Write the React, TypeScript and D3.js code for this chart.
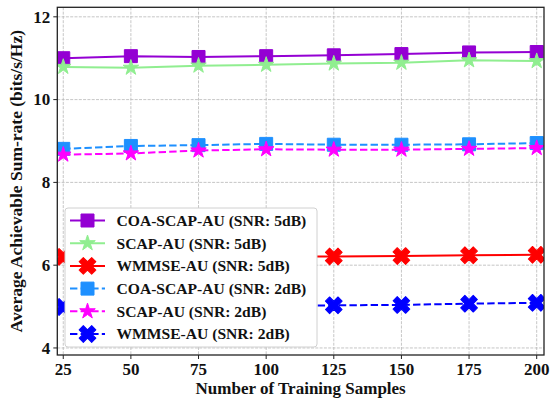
import React from "react";
import * as d3 from "d3";

const samples = [25, 50, 75, 100, 125, 150, 175, 200];
const coa5 = [11.0, 11.05, 11.03, 11.05, 11.07, 11.1, 11.14, 11.15];
const scap5 = [10.79, 10.77, 10.82, 10.84, 10.87, 10.89, 10.95, 10.93];
const wmmse5 = [6.2, 6.2, 6.2, 6.21, 6.21, 6.22, 6.24, 6.25];
const coa2 = [8.81, 8.88, 8.9, 8.93, 8.91, 8.91, 8.92, 8.95];
const scap2 = [8.67, 8.7, 8.77, 8.8, 8.79, 8.79, 8.81, 8.83];
const wmmse2 = [4.99, 5.0, 5.01, 5.02, 5.03, 5.04, 5.07, 5.09];
const xTicks = [25, 50, 75, 100, 125, 150, 175, 200];
const yTicks = [4, 6, 8, 10, 12];

const seriesDefs = [
  { name: "COA-SCAP-AU (SNR: 5dB)", values: coa5, color: "#9400D3", marker: "square", dashed: false },
  { name: "SCAP-AU (SNR: 5dB)", values: scap5, color: "#90EE90", marker: "star", dashed: false },
  { name: "WMMSE-AU (SNR: 5dB)", values: wmmse5, color: "#FF0000", marker: "x", dashed: false },
  { name: "COA-SCAP-AU (SNR: 2dB)", values: coa2, color: "#1E90FF", marker: "square", dashed: true },
  { name: "SCAP-AU (SNR: 2dB)", values: scap2, color: "#FF00FF", marker: "star", dashed: true },
  { name: "WMMSE-AU (SNR: 2dB)", values: wmmse2, color: "#0000FF", marker: "x", dashed: true },
];

const L = 57.3, R = 544, T = 7.3, B = 355;
const FONT = "'Liberation Serif', 'Times New Roman', serif";

function markerPath(m: string) {
  if (m === "square") return d3.symbol().type(d3.symbolSquare).size(169)()!;
  if (m === "star") return d3.symbol().type(d3.symbolStar).size(75)()!;
  return d3.symbol().type(d3.symbolCross).size(175)()!;
}

function Marker({ m, color, x, y }: { m: string; color: string; x: number; y: number }) {
  const rot = m === "x" ? 45 : 0;
  return (
    <path
      d={markerPath(m)}
      transform={`translate(${x},${y}) rotate(${rot})`}
      fill={color}
      stroke={color}
      strokeWidth={1}
      strokeLinejoin="round"
    />
  );
}

export default function App() {
  const x = d3.scaleLinear().domain([22.8, 202.7]).range([L, R]);
  const y = d3.scaleLinear().domain([3.83, 12.23]).range([B, T]);
  const line = d3
    .line<number>()
    .x((_, i) => x(samples[i]))
    .y((d) => y(d));

  const legX = 65, legY = 208, legW = 252, legH = 139;
  const rowH = 22.7;

  return (
    <svg width={551} height={401} style={{ position: "absolute", left: 0, top: 0 }} fontFamily={FONT}>
      <rect width={551} height={401} fill="#fff" />
      <defs>
        <clipPath id="plotclip">
          <rect x={L} y={T} width={R - L} height={B - T} />
        </clipPath>
      </defs>
      {/* grid */}
      <g stroke="#b8b8b8" strokeWidth={0.8} strokeDasharray="3,1.3">
        {xTicks.map((t) => (
          <line key={"gx" + t} x1={x(t)} x2={x(t)} y1={T} y2={B} />
        ))}
        {yTicks.map((t) => (
          <line key={"gy" + t} x1={L} x2={R} y1={y(t)} y2={y(t)} />
        ))}
      </g>
      {/* series */}
      <g clipPath="url(#plotclip)">
        {seriesDefs.map((s) => (
          <g key={s.name}>
            <path
              d={line(s.values)!}
              fill="none"
              stroke={s.color}
              strokeWidth={2}
              strokeDasharray={s.dashed ? "7.4,3.2" : undefined}
            />
            {s.values.map((v, i) => (
              <Marker key={i} m={s.marker} color={s.color} x={x(samples[i])} y={y(v)} />
            ))}
          </g>
        ))}
      </g>
      {/* frame */}
      <rect x={L} y={T} width={R - L} height={B - T} fill="none" stroke="#222" strokeWidth={1.3} />
      {/* ticks */}
      <g stroke="#222" strokeWidth={1}>
        {xTicks.map((t) => (
          <line key={"tx" + t} x1={x(t)} x2={x(t)} y1={B} y2={B + 4} />
        ))}
        {yTicks.map((t) => (
          <line key={"ty" + t} x1={L - 4} x2={L} y1={y(t)} y2={y(t)} />
        ))}
      </g>
      <g fontWeight="bold" fontSize={17} fill="#111">
        {xTicks.map((t) => (
          <text key={"lx" + t} x={x(t)} y={B + 20} textAnchor="middle">
            {t}
          </text>
        ))}
        {yTicks.map((t) => (
          <text key={"ly" + t} x={L - 7} y={y(t) + 5.8} textAnchor="end">
            {t}
          </text>
        ))}
      </g>
      <text x={(L + R) / 2} y={394} textAnchor="middle" fontWeight="bold" fontSize={17} fill="#111">
        Number of Training Samples
      </text>
      <text
        transform={`translate(22,${(T + B) / 2}) rotate(-90)`}
        textAnchor="middle"
        fontWeight="bold"
        fontSize={17.5}
        fill="#111"
      >
        Average Achievable Sum-rate (bits/s/Hz)
      </text>
      {/* legend */}
      <rect x={legX} y={legY} width={legW} height={legH} rx={3} fill="#fff" stroke="#d0d0d0" strokeWidth={1} />
      {seriesDefs.map((s, i) => {
        const cy = legY + 12.5 + i * rowH;
        return (
          <g key={"leg" + s.name}>
            <line
              x1={70}
              x2={105}
              y1={cy}
              y2={cy}
              stroke={s.color}
              strokeWidth={2}
              strokeDasharray={s.dashed ? "7.4,3.2" : undefined}
            />
            <Marker m={s.marker} color={s.color} x={87.5} y={cy} />
            <text x={116.5} y={cy + 5.3} fontWeight="bold" fontSize={15.6} fill="#111">
              {s.name}
            </text>
          </g>
        );
      })}
    </svg>
  );
}
